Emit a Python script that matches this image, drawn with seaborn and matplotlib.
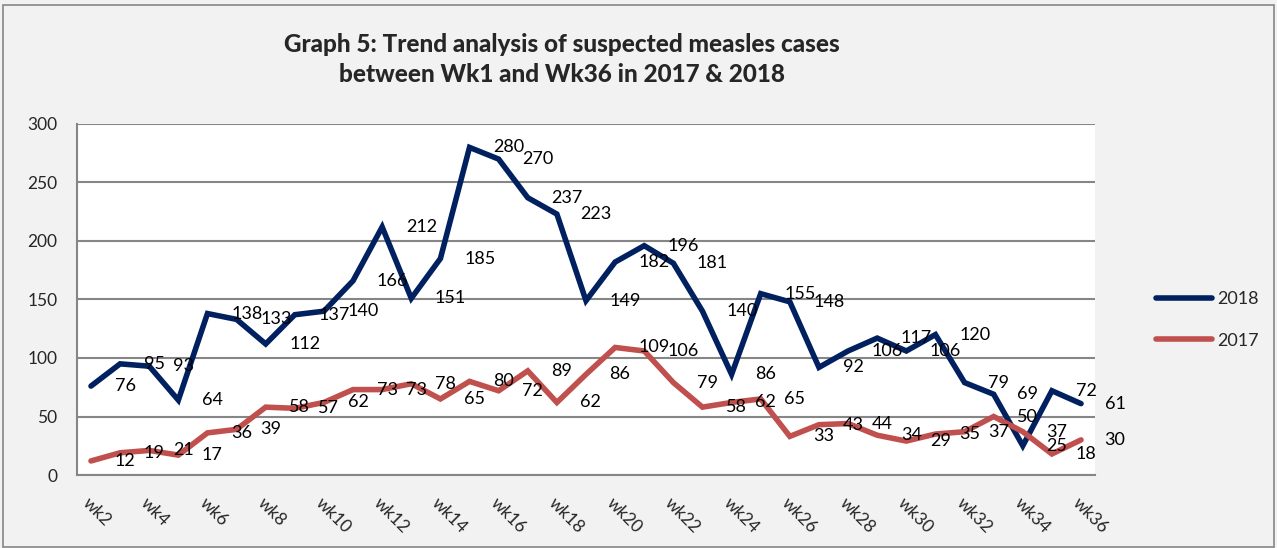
import pandas as pd
import matplotlib
import matplotlib.pyplot as plt
import seaborn as sns

matplotlib.use('Agg')

# weeks wk2..wk36
weeks = ['wk' + str(i) for i in range(2, 37)]
cases_2018 = [76, 95, 93, 64, 138, 133, 112, 137, 140, 166, 212, 151, 185, 280, 270,
              237, 223, 149, 182, 196, 181, 140, 86, 155, 148, 92, 106, 117, 106, 120,
              79, 69, 25, 72, 61]
cases_2017 = [12, 19, 21, 17, 36, 39, 58, 57, 62, 73, 73, 78, 65, 80, 72,
              89, 62, 86, 109, 106, 79, 58, 62, 65, 33, 43, 44, 34, 29, 35,
              37, 50, 37, 18, 30]
years = ['2018', '2017']
colors = ['#002060', '#c0504d']

# long format table for seaborn
rows = []
for year, vals in zip(years, [cases_2018, cases_2017]):
    for i, v in enumerate(vals):
        rows.append({'idx': i, 'week': weeks[i], 'year': year, 'cases': v})
df = pd.DataFrame(rows)

sns.set_style('white')
plt.rcParams['font.family'] = ['Lato', 'DejaVu Sans']

fig = plt.figure(figsize=(12.77, 5.48), dpi=100, facecolor='#f2f2f2')
ax = fig.add_axes([77 / 1277, 1 - 475 / 548, (1095 - 77) / 1277, (475 - 124) / 548])
ax.set_facecolor('white')

sns.lineplot(data=df, x='idx', y='cases', hue='year', hue_order=years,
             palette=colors, linewidth=4, ax=ax, legend=False,
             solid_capstyle='round', solid_joinstyle='miter')

# data labels to the right of each point
for year, vals in zip(years, [cases_2018, cases_2017]):
    for i, v in enumerate(vals):
        ax.annotate(str(v), (i, v), xytext=(17, 0), textcoords='offset points',
                    ha='left', va='center', fontsize=13, color='black')

ax.set_xlim(-0.48, len(weeks) - 1 + 0.48)
ax.set_ylim(0, 300)
ax.set_yticks(range(0, 301, 50))
ax.yaxis.grid(True, color='#868686', linewidth=1.5)
ax.set_axisbelow(True)
ax.tick_params(axis='y', labelsize=12.5, length=0, pad=14)
ax.set_xticks(range(0, len(weeks), 2))
ax.set_xticklabels(weeks[::2], rotation=-45, ha='left', rotation_mode='anchor',
                   fontsize=12.5)
ax.tick_params(axis='x', length=0, pad=14)
ax.set_xlabel('')
ax.set_ylabel('')
for s in ['top', 'right']:
    ax.spines[s].set_visible(False)
for s in ['left', 'bottom']:
    ax.spines[s].set_color('#868686')
    ax.spines[s].set_linewidth(1.5)

# legend
handles = [plt.Line2D([], [], color=c, linewidth=4, solid_capstyle='round') for c in colors]
fig.legend(handles, years, loc='center left', bbox_to_anchor=(1140 / 1277, 1 - 320 / 548),
           frameon=False, fontsize=13, handlelength=3.1, labelspacing=1.4, handletextpad=0.3)

fig.text(562 / 1277, 1 - 45 / 548, 'Graph 5: Trend analysis of suspected measles cases',
         ha='center', va='center', fontsize=17.5, fontweight='black')
fig.text(562 / 1277, 1 - 75 / 548, 'between Wk1 and Wk36 in 2017 & 2018',
         ha='center', va='center', fontsize=17.5, fontweight='black')

# outer border
fig.patches.append(plt.Rectangle((0.002, 0.002), 0.996, 0.988, transform=fig.transFigure,
                                 fill=False, edgecolor='#868686', linewidth=1.2))

plt.savefig('out.png', dpi=100, facecolor=fig.get_facecolor())
plt.close()
